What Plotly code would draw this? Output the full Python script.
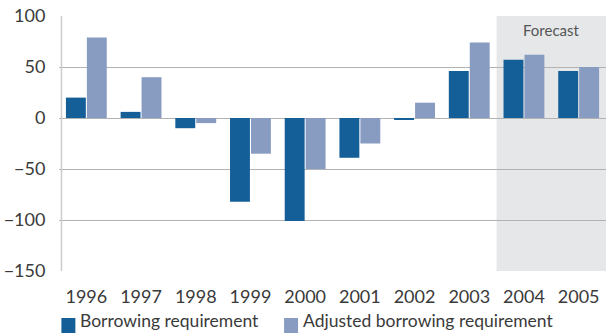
import plotly.graph_objects as go

# Annual borrowing figures, with 2004-2005 as forecast years
years = ["1996", "1997", "1998", "1999", "2000", "2001", "2002", "2003", "2004", "2005"]
borrowing = [20, 6, -10, -82, -101, -39, -1.5, 46, 57, 46]
adjusted = [79, 40, -5, -35, -50, -25, 15, 74, 62, 50]
y_ticks = [100, 50, 0, -50, -100, -150]
y_tick_text = ["100", "50", "0", "\u221250", "\u2212100", "\u2212150"]

DARK = "#155F99"
LIGHT = "#889CC2"
GRID = "#B3B3B3"
TEXT = "#3A3A3A"
FONT = "Lato"

W, H = 607, 333
ML, MR, MT, MB = 58.6, 0.6, 16, 62

fig = go.Figure()
fig.add_trace(go.Bar(x=years, y=borrowing, name="Borrowing requirement",
                     marker=dict(color=DARK, line=dict(width=0))))
fig.add_trace(go.Bar(x=years, y=adjusted, name="Adjusted borrowing requirement",
                     marker=dict(color=LIGHT, line=dict(width=0))))

# Shaded forecast period
fig.add_shape(type="rect", xref="x", yref="paper", x0=7.5, x1=9.5, y0=0, y1=1,
              fillcolor="#E6E7E9", line=dict(width=0), layer="below")
fig.add_annotation(x=8.5, xref="x", y=100, yref="y", yshift=-14, text="Forecast",
                   showarrow=False, font=dict(family=FONT, size=15, color="#555555"))

# Left axis line
fig.add_shape(type="line", xref="paper", yref="paper", x0=0.0045, x1=0.0045, y0=0, y1=1,
              line=dict(color="#CCCCCC", width=1.5))

# Legend drawn as swatches and labels beneath the axis
pw = W - ML - MR
def px_to_paper_x(px):
    return (px - ML) / pw
ph = H - MT - MB
def px_to_paper_y(py):
    return (H - MB - py) / ph

legend_items = [("Borrowing requirement", DARK, 61), ("Adjusted borrowing requirement", LIGHT, 284)]
for label, color, sx in legend_items:
    fig.add_shape(type="rect", xref="paper", yref="paper",
                  x0=px_to_paper_x(sx), x1=px_to_paper_x(sx + 14),
                  y0=px_to_paper_y(333), y1=px_to_paper_y(318),
                  fillcolor=color, line=dict(width=0))
    fig.add_annotation(xref="paper", yref="paper", x=px_to_paper_x(sx + 17), y=px_to_paper_y(320),
                       xanchor="left", yanchor="middle", text=label, showarrow=False,
                       font=dict(family=FONT, size=17.5, color=TEXT))

fig.update_layout(
    width=W, height=H,
    margin=dict(l=ML, r=MR, t=MT, b=MB, pad=0),
    paper_bgcolor="white", plot_bgcolor="white",
    barmode="group", bargap=0.234, bargroupgap=0.05,
    showlegend=False,
    font=dict(family=FONT, size=18, color=TEXT),
)
fig.update_xaxes(range=[-0.5, 9.5], showgrid=False, showline=False, zeroline=False,
                 ticks="outside", ticklen=9, tickcolor="rgba(0,0,0,0)",
                 tickfont=dict(family=FONT, size=18, color=TEXT))
fig.update_yaxes(range=[-150, 100], tickvals=y_ticks, ticktext=y_tick_text,
                 showgrid=True, gridcolor=GRID, gridwidth=1.3,
                 zeroline=True, zerolinecolor=GRID, zerolinewidth=1.3,
                 showline=False, ticks="outside", ticklen=9, tickcolor="rgba(0,0,0,0)",
                 tickfont=dict(family=FONT, size=18, color=TEXT))

fig.write_html("out.html")
